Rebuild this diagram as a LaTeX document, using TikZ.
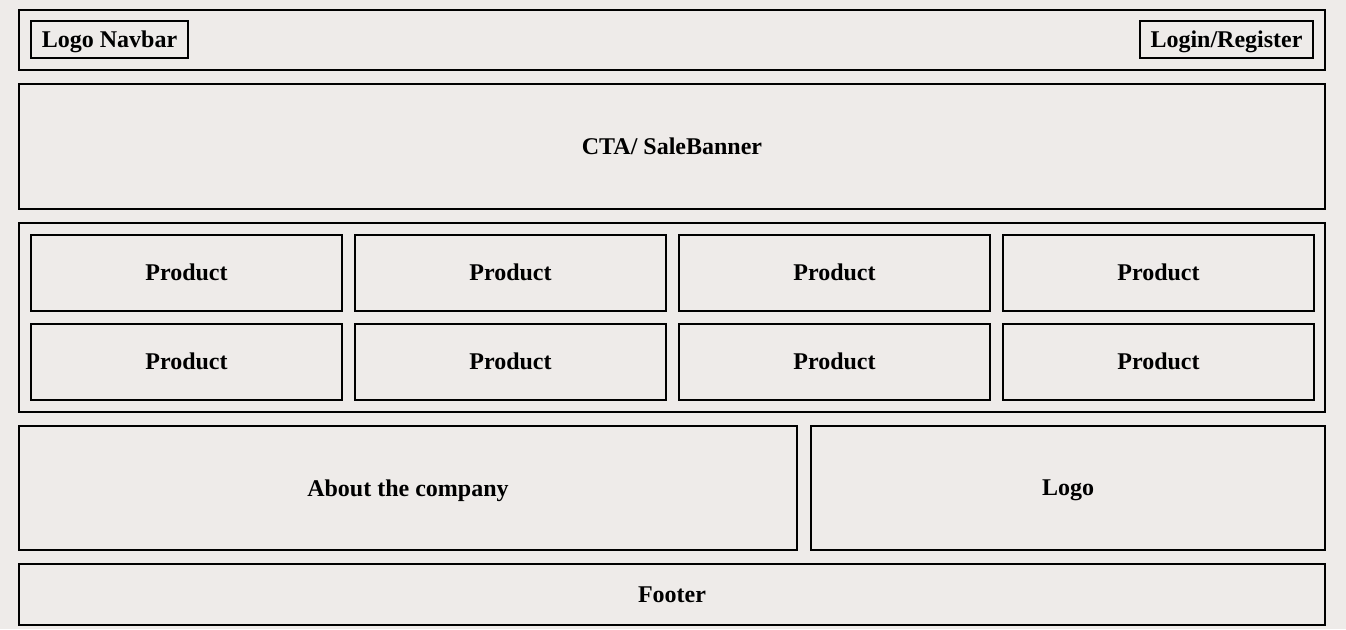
\documentclass[tikz,border=0pt]{standalone}
\usepackage{fontspec}
\setmainfont{Liberation Serif}
\usepackage{xcolor}
\definecolor{pagebg}{RGB}{238,235,233}
\newdimen\px
\px=0.75pt

\begin{document}
\begin{tikzpicture}[x=0.75pt,y=-0.75pt]
\tikzset{
    box/.style={%
        draw=black, line width=2\px,
        rectangle,
        inner sep=0pt, outer sep=0pt,
        text depth=0pt,
        font=\fontsize{18}{20}\selectfont\bfseries
        },
    cell/.style={%
        box,
        minimum width=311\px,
        minimum height=76\px
        },
}
%%%PAGE
\fill[pagebg] (0,0) rectangle (1346,629);
\useasboundingbox (0,0) rectangle (1346,629);
%%%NAVBAR
\node[box, minimum width=1306\px, minimum height=60\px] (navbar) at (672,40) {};
\node[box, minimum width=157\px, minimum height=37\px] (logonav) at (109.5,39.5) {Logo Navbar};
\node[box, minimum width=173\px, minimum height=37\px] (login) at (1226.5,39.5) {Login/Register};
%%%BANNER
\node[box, minimum width=1306\px, minimum height=125\px] (banner) at (672,146.5) {CTA/ SaleBanner};
%%%PRODUCTS
\node[box, minimum width=1306\px, minimum height=189\px] (products) at (672,317.5) {};
\foreach \r/\y in {0/272.5, 1/361.5}
  \foreach \c in {0,...,3}
    \node[cell] (p\r\c) at ({186.5+324*\c},\y) {Product};
%%%ABOUT + LOGO
\node[box, minimum width=778\px, minimum height=124\px] (about) at (408,488) {About the company};
\node[box, minimum width=514\px, minimum height=124\px] (logo) at (1068,488) {Logo};
%%%FOOTER
\node[box, minimum width=1306\px, minimum height=61\px] (footer) at (672,594.5) {Footer};
\end{tikzpicture}
\end{document}
